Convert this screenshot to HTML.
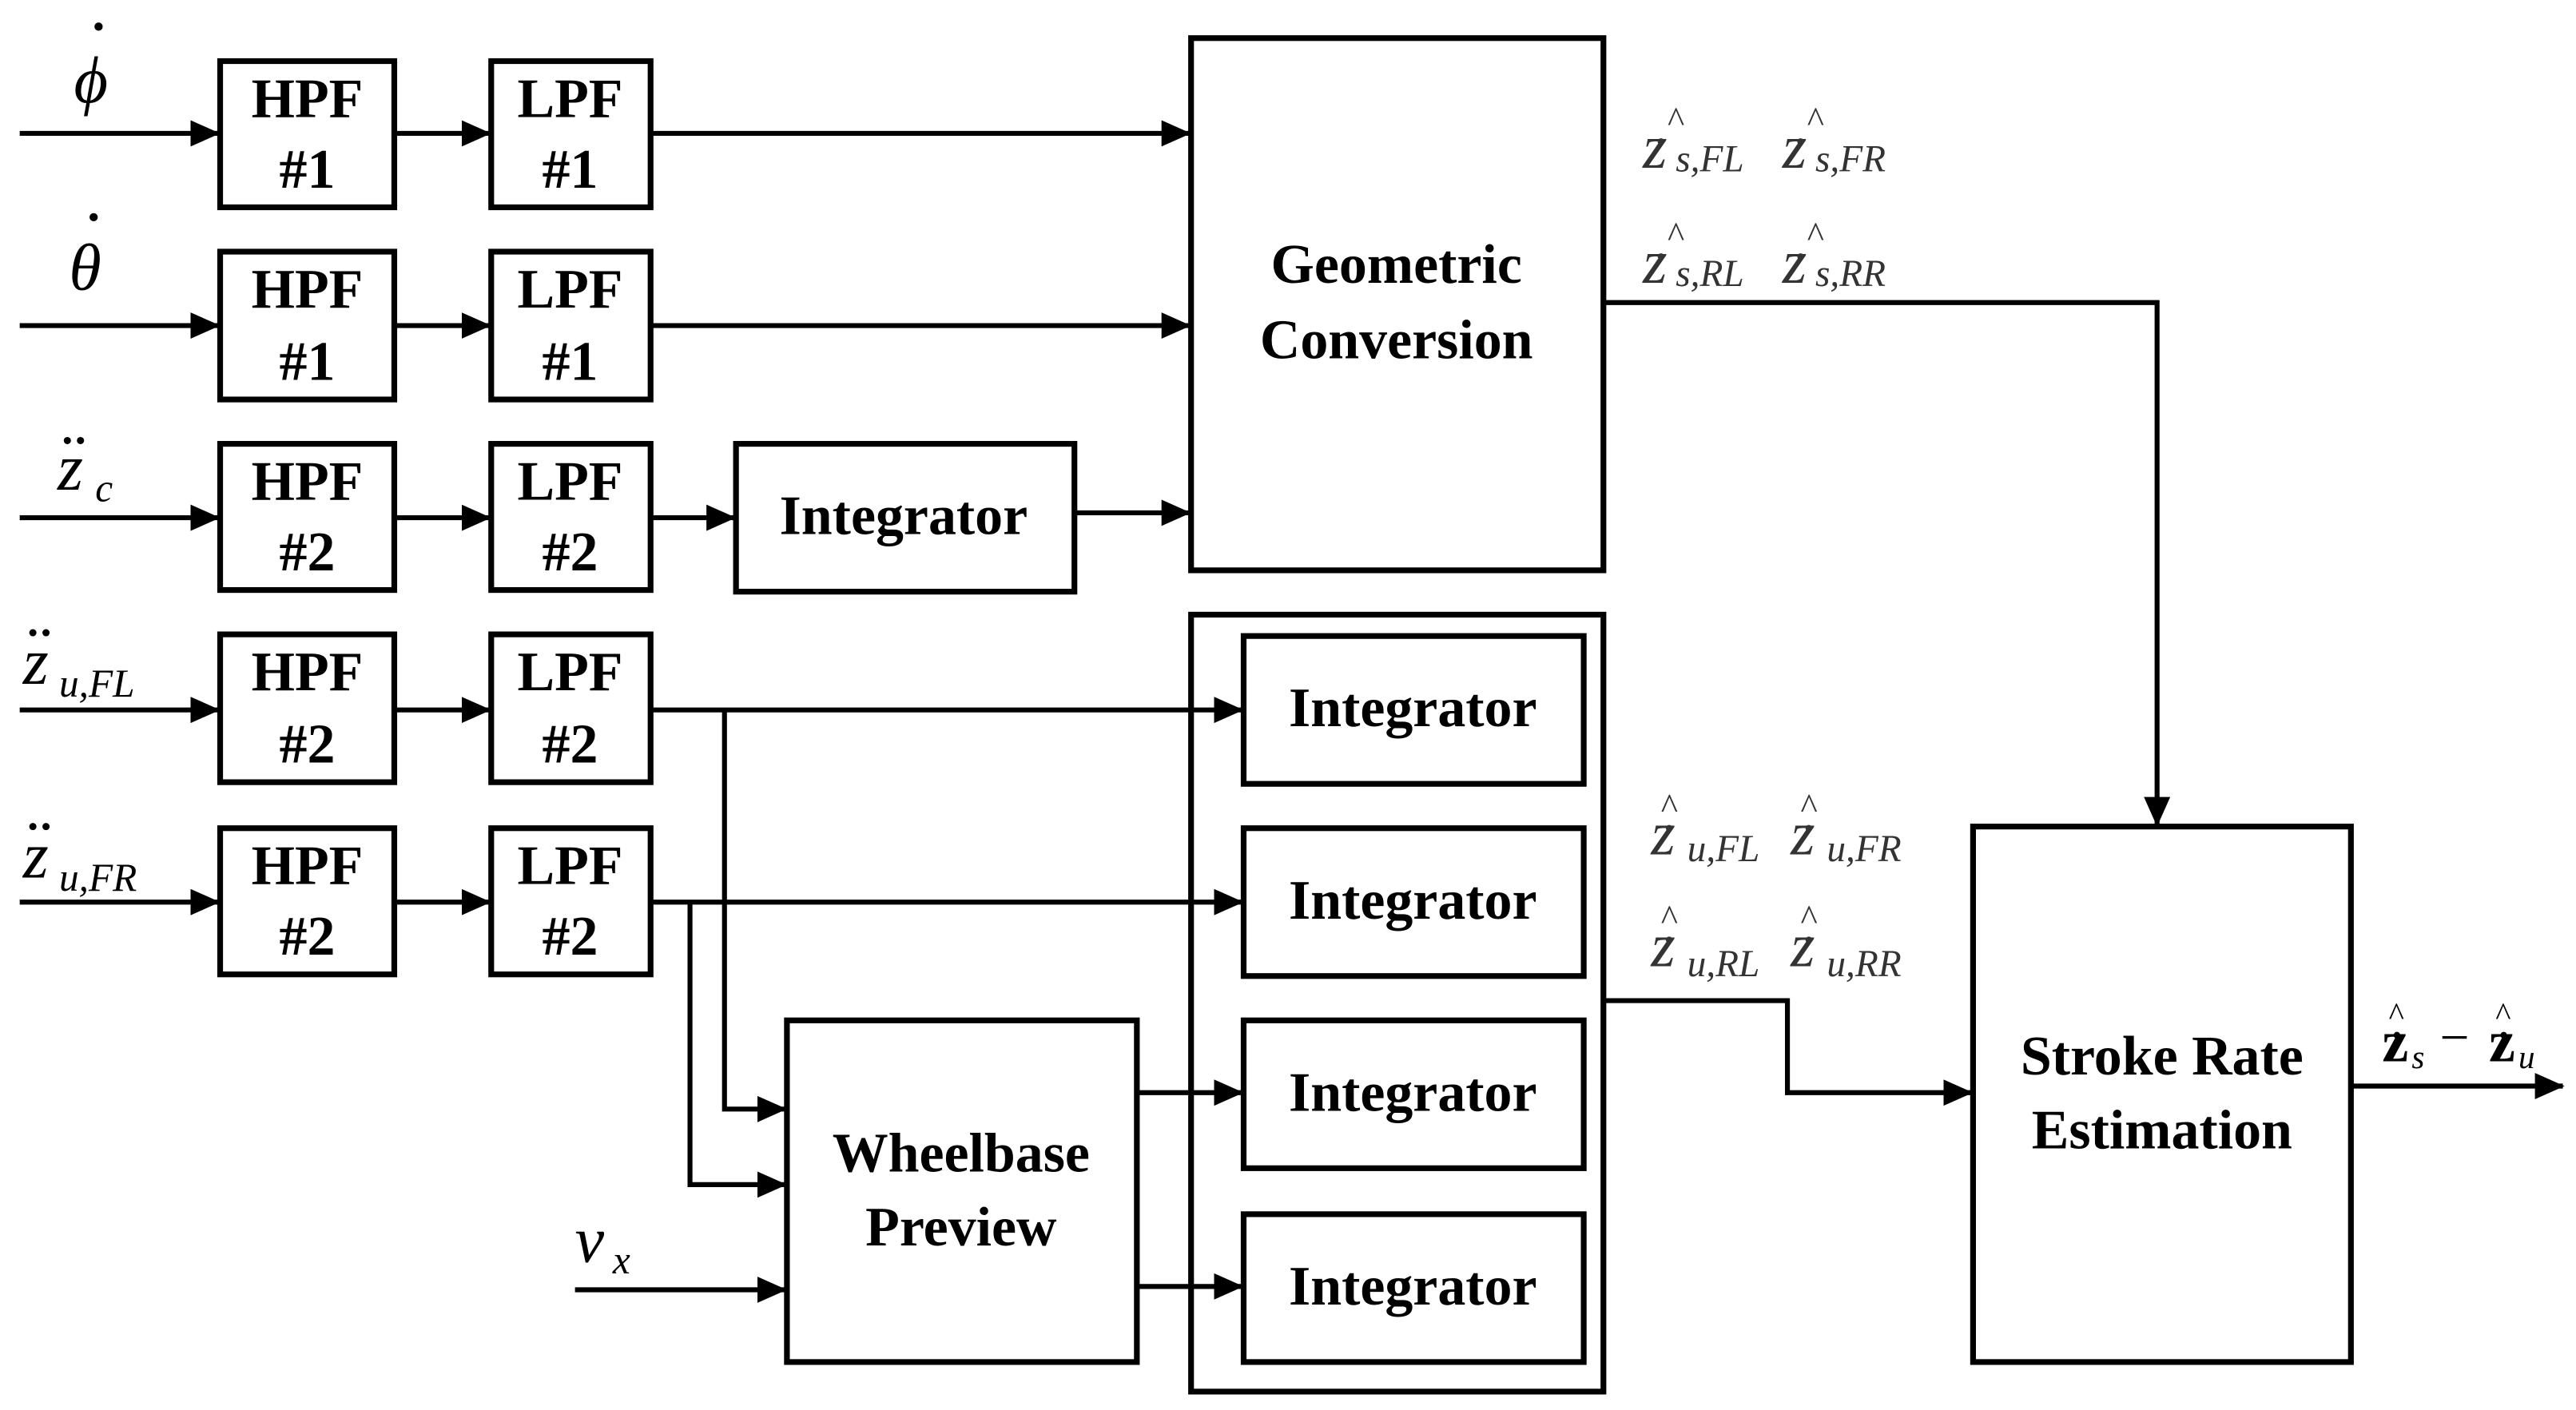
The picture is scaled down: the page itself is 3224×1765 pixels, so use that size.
<!DOCTYPE html>
<html><head><meta charset="utf-8"><style>html,body{margin:0;padding:0;background:#fff}svg{display:block}</style></head><body>
<svg width="3224" height="1765" viewBox="0 0 1568 858" xmlns="http://www.w3.org/2000/svg" font-family="Liberation Serif, serif">
<defs>
<marker id="b" markerWidth="18" markerHeight="16" refX="17" refY="8" orient="auto" markerUnits="userSpaceOnUse"><path d="M0,0 L18,8 L0,16 z" fill="#000"/></marker></defs>
<g fill="none" stroke="#000" stroke-width="3.5">
<rect x="134" y="37" width="106" height="89"/><rect x="299" y="37" width="97" height="89"/>
<rect x="134" y="153" width="106" height="90"/><rect x="299" y="153" width="97" height="90"/>
<rect x="134" y="270" width="106" height="89"/><rect x="299" y="270" width="97" height="89"/>
<rect x="134" y="386" width="106" height="90"/><rect x="299" y="386" width="97" height="90"/>
<rect x="134" y="504" width="106" height="89"/><rect x="299" y="504" width="97" height="89"/>
<rect x="448" y="270" width="206" height="90"/>
<rect x="725" y="23" width="251" height="324"/>
<rect x="725" y="374" width="251" height="473"/>
<rect x="757" y="387" width="207" height="90"/><rect x="757" y="504" width="207" height="90"/>
<rect x="757" y="621" width="207" height="90"/><rect x="757" y="739" width="207" height="90"/>
<rect x="479" y="621" width="213" height="208"/>
<rect x="1201" y="503" width="230" height="326"/>
</g>
<g fill="none" stroke="#000" stroke-width="3" marker-end="url(#b)">
<path d="M12 81H133"/><path d="M240 81H298"/><path d="M396 81H724"/>
<path d="M12 198H133"/><path d="M240 198H298"/><path d="M396 198H724"/>
<path d="M12 315H133"/><path d="M240 315H298"/><path d="M396 315H447"/><path d="M654 312H724"/>
<path d="M12 432H133"/><path d="M240 432H298"/><path d="M396 432H756"/>
<path d="M12 549H133"/><path d="M240 549H298"/><path d="M396 549H756"/>
<path d="M441 432V675H478"/><path d="M420 549V721H478"/>
<path d="M350 785H478"/><path d="M692 665H756"/><path d="M692 783H756"/>
<path d="M976 184H1313V502"/><path d="M976 609H1088V665H1200"/>
<path d="M1431 661H1560"/>
</g>
<g font-weight="bold" font-size="34" text-anchor="middle" font-family="Liberation Serif, serif">
<text x="187" y="71">HPF</text><text x="187" y="114">#1</text><text x="347" y="71">LPF</text><text x="347" y="114">#1</text>
<text x="187" y="187">HPF</text><text x="187" y="231">#1</text><text x="347" y="187">LPF</text><text x="347" y="231">#1</text>
<text x="187" y="304">HPF</text><text x="187" y="347">#2</text><text x="347" y="304">LPF</text><text x="347" y="347">#2</text>
<text x="187" y="420">HPF</text><text x="187" y="464">#2</text><text x="347" y="420">LPF</text><text x="347" y="464">#2</text>
<text x="187" y="538">HPF</text><text x="187" y="581">#2</text><text x="347" y="538">LPF</text><text x="347" y="581">#2</text>
<text x="550" y="325">Integrator</text>
<text x="850" y="172">Geometric</text><text x="850" y="218">Conversion</text>
<text x="860" y="442">Integrator</text><text x="860" y="559">Integrator</text><text x="860" y="676">Integrator</text><text x="860" y="794">Integrator</text>
<text x="585" y="713">Wheelbase</text><text x="585" y="758">Preview</text>
<text x="1316" y="654">Stroke Rate</text><text x="1316" y="699">Estimation</text>
</g>
<g font-style="italic" font-size="40" fill="#000">
<text x="45" y="62">ϕ</text><circle cx="60" cy="16" r="2.5"/>
<text x="42" y="176">θ</text><circle cx="57" cy="132" r="2.5"/>
<text x="35" y="298">z</text><circle cx="41" cy="268" r="2.2"/><circle cx="49" cy="268" r="2.2"/><text x="58" y="305" font-size="24">c</text>
<text x="14" y="416">z</text><circle cx="20" cy="385" r="2.2"/><circle cx="28" cy="385" r="2.2"/><text x="36" y="424" font-size="24">u,FL</text>
<text x="14" y="534">z</text><circle cx="20" cy="503" r="2.2"/><circle cx="28" cy="503" r="2.2"/><text x="36" y="542" font-size="24">u,FR</text>
<text x="350" y="768">v</text><text x="373" y="775" font-size="24">x</text>
</g>
<g font-style="italic" font-size="38" fill="#333">
<text x="1000" y="102">z</text><text x="1015" y="80" font-size="22" font-style="normal">^</text><circle cx="1011" cy="86" r="2"/><text x="1020" y="104" font-size="23">s,FL</text>
<text x="1085" y="102">z</text><text x="1100" y="80" font-size="22" font-style="normal">^</text><circle cx="1096" cy="86" r="2"/><text x="1105" y="104" font-size="23">s,FR</text>
<text x="1000" y="172">z</text><text x="1015" y="150" font-size="22" font-style="normal">^</text><circle cx="1011" cy="156" r="2"/><text x="1020" y="174" font-size="23">s,RL</text>
<text x="1085" y="172">z</text><text x="1100" y="150" font-size="22" font-style="normal">^</text><circle cx="1096" cy="156" r="2"/><text x="1105" y="174" font-size="23">s,RR</text>
<text x="1005" y="520">z</text><text x="1011" y="498" font-size="22" font-style="normal">^</text><circle cx="1016" cy="504" r="2"/><text x="1027" y="524" font-size="23">u,FL</text>
<text x="1090" y="520">z</text><text x="1096" y="498" font-size="22" font-style="normal">^</text><circle cx="1101" cy="504" r="2"/><text x="1112" y="524" font-size="23">u,FR</text>
<text x="1005" y="588">z</text><text x="1011" y="566" font-size="22" font-style="normal">^</text><circle cx="1016" cy="572" r="2"/><text x="1027" y="594" font-size="23">u,RL</text>
<text x="1090" y="588">z</text><text x="1096" y="566" font-size="22" font-style="normal">^</text><circle cx="1101" cy="572" r="2"/><text x="1112" y="594" font-size="23">u,RR</text>
</g>
<g fill="#000">
<text x="1450" y="646" font-size="36" font-weight="bold">z</text><text x="1454" y="624" font-size="20">^</text><circle cx="1459" cy="630" r="2"/><text x="1468" y="650" font-size="20" font-style="italic">s</text>
<text x="1485" y="642" font-size="32">−</text>
<text x="1515" y="646" font-size="36" font-weight="bold">z</text><text x="1519" y="624" font-size="20">^</text><circle cx="1524" cy="630" r="2"/><text x="1533" y="650" font-size="20" font-style="italic">u</text>
</g>
</svg>
</body></html>
